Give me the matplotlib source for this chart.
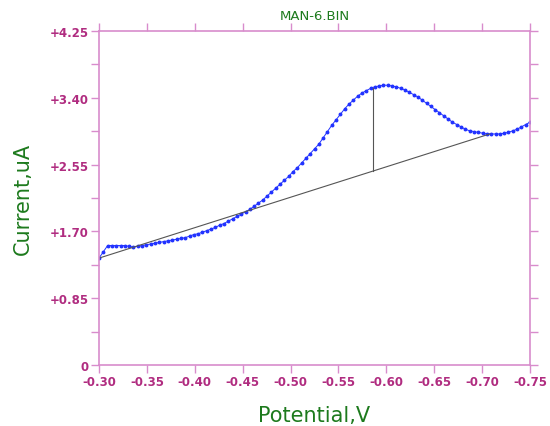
import numpy as np
import matplotlib
matplotlib.use("Agg")
import matplotlib.pyplot as plt
from matplotlib.ticker import FixedLocator, MultipleLocator

# ---- data ----
potential_start = -0.30
potential_end = -0.75
current = [
    1.36, 1.44, 1.52, 1.52, 1.52, 1.52, 1.52, 1.51, 1.50, 1.51,
    1.52, 1.53, 1.54, 1.55, 1.56, 1.57, 1.58, 1.59, 1.60, 1.61,
    1.62, 1.64, 1.66, 1.67, 1.69, 1.71, 1.73, 1.75, 1.78, 1.80,
    1.83, 1.86, 1.89, 1.92, 1.95, 1.98, 2.02, 2.06, 2.10, 2.15,
    2.20, 2.25, 2.30, 2.35, 2.40, 2.46, 2.51, 2.57, 2.63, 2.69,
    2.75, 2.81, 2.89, 2.97, 3.05, 3.12, 3.19, 3.26, 3.32, 3.37,
    3.42, 3.46, 3.49, 3.52, 3.54, 3.55, 3.56, 3.56, 3.55, 3.54,
    3.52, 3.50, 3.47, 3.44, 3.41, 3.37, 3.33, 3.29, 3.25, 3.21,
    3.17, 3.13, 3.09, 3.06, 3.03, 3.00, 2.98, 2.97, 2.96, 2.95,
    2.94, 2.94, 2.94, 2.94, 2.95, 2.96, 2.98, 3.00, 3.03, 3.06,
    3.09,
]
potential = np.linspace(potential_start, potential_end, len(current))

baseline_v = [-0.30, -0.708]
baseline_i = [1.36, 2.94]
peak_v = -0.586
peak_bottom = 2.47
peak_top = 3.52

x_ticks = [-0.30, -0.35, -0.40, -0.45, -0.50, -0.55, -0.60, -0.65, -0.70, -0.75]
x_labels = ["-0.30", "-0.35", "-0.40", "-0.45", "-0.50", "-0.55", "-0.60", "-0.65", "-0.70", "-0.75"]
y_ticks = [0, 0.85, 1.70, 2.55, 3.40, 4.25]
y_labels = ["0", "+0.85", "+1.70", "+2.55", "+3.40", "+4.25"]

# ---- style ----
plt.rcParams['font.family'] = ['DejaVu Sans']
spine_c = '#d88ccc'
tick_c = '#b02c80'
green = '#1d7a1d'

fig = plt.figure(figsize=(5.5, 4.27), dpi=100)
ax = fig.add_axes([99/550, 1-366/427, (530-99)/550, (366-32)/427])

ax.plot(potential, current, color='#2233ff', lw=0.7, marker='o', ms=1.8,
        mec='#2233ff', mfc='#2233ff')
ax.plot(baseline_v, baseline_i, color='#555555', lw=0.8)
ax.plot([peak_v, peak_v], [peak_bottom, peak_top], color='#555555', lw=0.8)

ax.set_xlim(-0.30, -0.75)
ax.set_ylim(0, 4.25)
ax.xaxis.set_major_locator(FixedLocator(x_ticks))
ax.set_xticklabels(x_labels)
ax.yaxis.set_major_locator(FixedLocator(y_ticks))
ax.set_yticklabels(y_labels)
ax.yaxis.set_minor_locator(MultipleLocator(0.425))

for s in ax.spines.values():
    s.set_color(spine_c)
    s.set_linewidth(1.2)

ax.tick_params(which='both', direction='out', color=spine_c, width=1.0,
               top=True, right=True, labeltop=False, labelright=False)
ax.tick_params(which='major', length=6, labelsize=8.5, labelcolor=tick_c, pad=1.5)
ax.tick_params(which='minor', length=6)
for lab in ax.get_xticklabels() + ax.get_yticklabels():
    lab.set_fontweight('bold')

ax.set_title('MAN-6.BIN', color=green, fontsize=9.5, pad=9)
ax.set_xlabel('Potential,V', color=green, fontsize=15, labelpad=12)
ax.set_ylabel('Current,uA', color=green, fontsize=15, labelpad=12)

fig.savefig('out.png', dpi=100, facecolor='white')
